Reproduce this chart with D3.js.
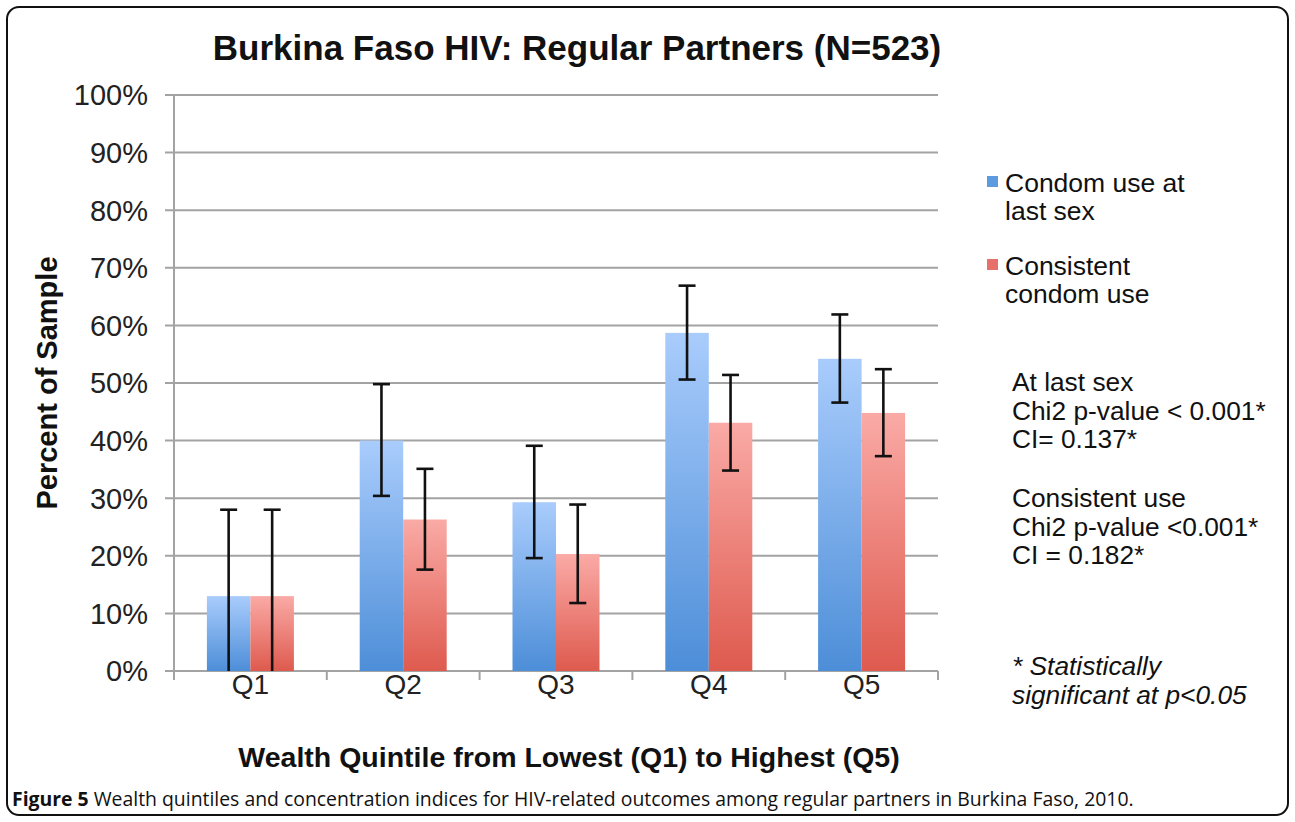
<!DOCTYPE html>
<html>
<head>
<meta charset="utf-8">
<script src="https://cdn.jsdelivr.net/npm/d3@7"></script>
<style>
  body { margin: 0; background: #fff; }
  svg text { font-family: "Liberation Sans", Arial, sans-serif; }
</style>
</head>
<body>
<svg id="chart" width="1295" height="822"></svg>
<script>
const quintiles = ["Q1", "Q2", "Q3", "Q4", "Q5"];
const seriesNames = ["Condom use at last sex", "Consistent condom use"];
const lastSex = [13, 40, 29.3, 58.7, 54.2];
const lastSexLow = [0, 30.4, 19.6, 50.6, 46.6];
const lastSexHigh = [28, 49.8, 39.1, 66.9, 61.9];
const consistent = [13, 26.3, 20.3, 43.1, 44.8];
const consistentLow = [0, 17.6, 11.8, 34.8, 37.3];
const consistentHigh = [28, 35.1, 28.9, 51.4, 52.4];
const yTicks = [0, 10, 20, 30, 40, 50, 60, 70, 80, 90, 100];

const svg = d3.select("#chart");

// rounded frame around the figure
svg.append("rect")
    .attr("x", 7).attr("y", 7)
    .attr("width", 1281).attr("height", 808)
    .attr("rx", 12)
    .attr("fill", "none")
    .attr("stroke", "#111")
    .attr("stroke-width", 2);

const margin = { left: 174, right: 938, top: 95, bottom: 671 };

const y = d3.scaleLinear().domain([0, 100]).range([margin.bottom, margin.top]);
const x0 = d3.scaleBand().domain(quintiles).range([margin.left, margin.right]).paddingInner(0).paddingOuter(0);
const x1 = d3.scaleBand().domain(seriesNames).range([0, 87]);
const barOffset = (x0.bandwidth() - 87) / 2;

// gradients
const defs = svg.append("defs");
const gradStops = [
    ["grad-blue", "#a9ccfc", "#4d8ed8"],
    ["grad-red", "#faaaa6", "#de5a4e"]
];
gradStops.forEach(([id, top, bottom]) => {
    const g = defs.append("linearGradient").attr("id", id)
        .attr("x1", 0).attr("y1", 0).attr("x2", 0).attr("y2", 1);
    g.append("stop").attr("offset", "0%").attr("stop-color", top);
    g.append("stop").attr("offset", "100%").attr("stop-color", bottom);
});

// gridlines
svg.append("g")
    .selectAll("line")
    .data(yTicks)
    .join("line")
    .attr("x1", margin.left - 9)
    .attr("x2", margin.right)
    .attr("y1", d => y(d))
    .attr("y2", d => y(d))
    .attr("stroke", "#a3a3a3")
    .attr("stroke-width", 2);

// y axis line
svg.append("line")
    .attr("x1", margin.left).attr("x2", margin.left)
    .attr("y1", margin.top).attr("y2", margin.bottom + 9)
    .attr("stroke", "#a3a3a3").attr("stroke-width", 2);

// category ticks
svg.append("g")
    .selectAll("line")
    .data(quintiles)
    .join("line")
    .attr("x1", d => x0(d) + x0.step())
    .attr("x2", d => x0(d) + x0.step())
    .attr("y1", margin.bottom)
    .attr("y2", margin.bottom + 9)
    .attr("stroke", "#a3a3a3").attr("stroke-width", 2);

// y tick labels
svg.append("g")
    .selectAll("text")
    .data(yTicks)
    .join("text")
    .attr("x", 148)
    .attr("y", d => y(d))
    .attr("dy", "0.36em")
    .attr("text-anchor", "end")
    .attr("font-size", 29)
    .attr("fill", "#222")
    .text(d => d + "%");

// x tick labels
svg.append("g")
    .selectAll("text")
    .data(quintiles)
    .join("text")
    .attr("x", d => x0(d) + x0.bandwidth() / 2)
    .attr("y", 694)
    .attr("text-anchor", "middle")
    .attr("font-size", 28)
    .attr("fill", "#222")
    .text(d => d);

// bars
const rows = quintiles.map((q, i) => ({
    q,
    vals: [
        { s: seriesNames[0], v: lastSex[i], lo: lastSexLow[i], hi: lastSexHigh[i], fill: "url(#grad-blue)" },
        { s: seriesNames[1], v: consistent[i], lo: consistentLow[i], hi: consistentHigh[i], fill: "url(#grad-red)" }
    ]
}));

const groups = svg.append("g")
    .selectAll("g")
    .data(rows)
    .join("g")
    .attr("transform", d => `translate(${x0(d.q) + barOffset},0)`);

groups.selectAll("rect")
    .data(d => d.vals)
    .join("rect")
    .attr("x", d => x1(d.s))
    .attr("width", x1.bandwidth())
    .attr("y", d => y(d.v))
    .attr("height", d => y(0) - y(d.v))
    .attr("fill", d => d.fill);

// error bars
const err = groups.selectAll("g.err")
    .data(d => d.vals)
    .join("g")
    .attr("class", "err")
    .attr("transform", d => `translate(${x1(d.s) + x1.bandwidth() / 2},0)`)
    .attr("stroke", "#111")
    .attr("stroke-width", 2.6);
err.append("line").attr("y1", d => y(d.lo)).attr("y2", d => y(d.hi));
err.append("line").attr("x1", -8.5).attr("x2", 8.5).attr("y1", d => y(d.hi)).attr("y2", d => y(d.hi));
err.filter(d => d.lo > 0)
    .append("line").attr("x1", -8.5).attr("x2", 8.5).attr("y1", d => y(d.lo)).attr("y2", d => y(d.lo));

// title
svg.append("text")
    .attr("x", 577).attr("y", 60)
    .attr("text-anchor", "middle")
    .attr("font-size", 35)
    .attr("font-weight", "bold")
    .attr("fill", "#111")
    .text("Burkina Faso HIV: Regular Partners (N=523)");

// axis titles
svg.append("text")
    .attr("transform", "translate(57,383) rotate(-90)")
    .attr("text-anchor", "middle")
    .attr("font-size", 29)
    .attr("font-weight", "bold")
    .attr("fill", "#111")
    .text("Percent of Sample");

svg.append("text")
    .attr("x", 569).attr("y", 767)
    .attr("text-anchor", "middle")
    .attr("font-size", 28.5)
    .attr("font-weight", "bold")
    .attr("fill", "#111")
    .text("Wealth Quintile from Lowest (Q1) to Highest (Q5)");

// legend
const legendLines = [["Condom use at", "last sex"], ["Consistent", "condom use"]];
const legendColors = ["#5d9be0", "#e8706a"];
const legend = svg.append("g")
    .selectAll("g")
    .data(seriesNames)
    .join("g")
    .attr("transform", (d, i) => `translate(987,${176 + i * 83})`);
legend.append("rect")
    .attr("width", 11).attr("height", 11)
    .attr("fill", (d, i) => legendColors[i]);
legend.append("text")
    .attr("font-size", 26.5)
    .attr("fill", "#111")
    .selectAll("tspan")
    .data((d, i) => legendLines[i])
    .join("tspan")
    .attr("x", 18)
    .attr("y", (d, i) => 15.5 + i * 28)
    .text(d => d);

// stats notes
const notes = [
    { lines: ["At last sex", "Chi2 p-value < 0.001*", "CI= 0.137*"], y: 391, italic: false },
    { lines: ["Consistent use", "Chi2 p-value <0.001*", "CI = 0.182*"], y: 507, italic: false },
    { lines: ["* Statistically", "significant at p<0.05"], y: 675, italic: true }
];
notes.forEach(n => {
    svg.append("text")
        .attr("font-size", 26.3)
        .attr("fill", "#111")
        .attr("font-style", n.italic ? "italic" : "normal")
        .selectAll("tspan")
        .data(n.lines)
        .join("tspan")
        .attr("x", 1012)
        .attr("y", (d, i) => n.y + i * 28.5)
        .text(d => d);
});

// caption
const cap = svg.append("text")
    .attr("x", 12).attr("y", 806)
    .attr("font-size", 19.4)
    .attr("fill", "#111")
    .style("font-family", "'Open Sans', sans-serif");
cap.append("tspan").attr("font-weight", "bold").text("Figure 5 ");
cap.append("tspan").text("Wealth quintiles and concentration indices for HIV-related outcomes among regular partners in Burkina Faso, 2010.");
</script>
</body>
</html>
